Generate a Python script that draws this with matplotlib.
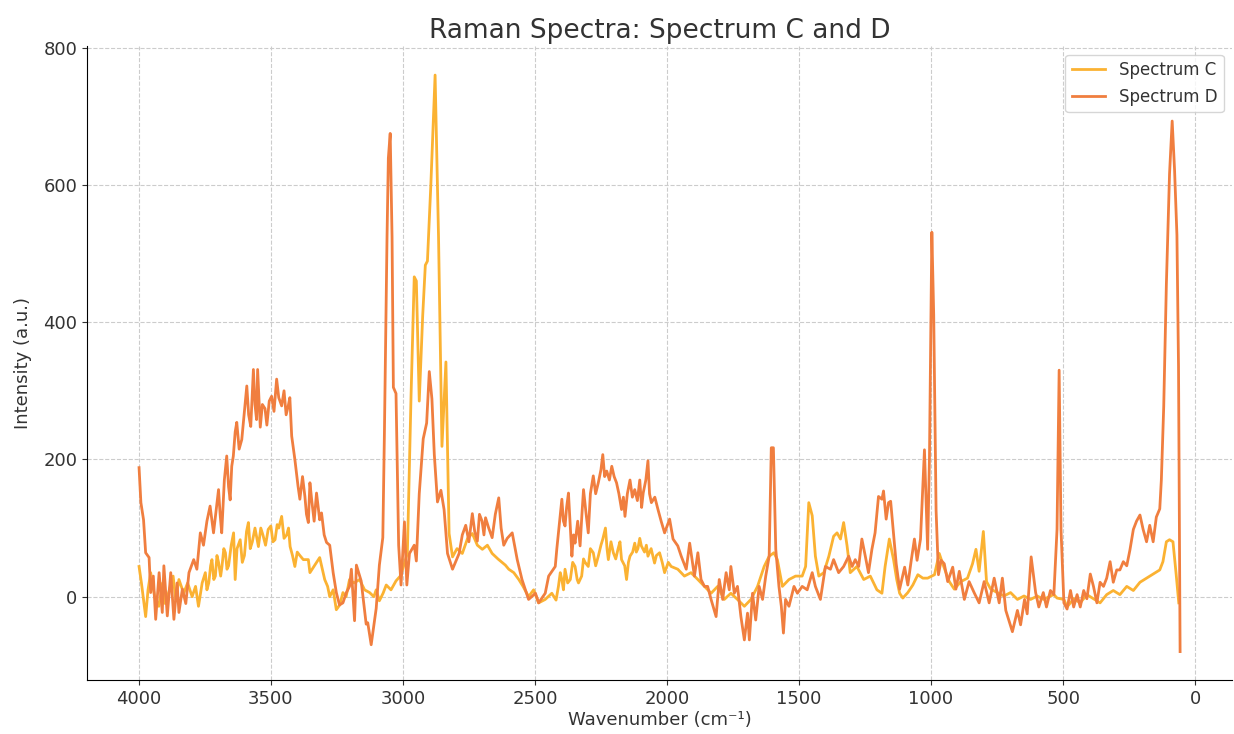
import matplotlib.pyplot as plt

# Spectrum C (wavenumber, intensity)
wn_c = [3999, 3990, 3974, 3965, 3955, 3940, 3924, 3910, 3900, 3887,
        3870, 3860, 3848, 3830, 3815, 3798, 3785, 3774, 3760, 3748,
        3742, 3735, 3728, 3723, 3716, 3710, 3704, 3698, 3690, 3685,
        3678, 3672, 3666, 3660, 3650, 3641, 3635, 3628, 3616, 3608,
        3600, 3592, 3585, 3578, 3570, 3560, 3547, 3538, 3530, 3520,
        3510, 3500, 3492, 3484, 3476, 3470, 3459, 3450, 3440, 3433,
        3427, 3418, 3409, 3400, 3390, 3377, 3358, 3352, 3335, 3315,
        3296, 3285, 3277, 3264, 3252, 3239, 3227, 3215, 3202, 3185,
        3164, 3145, 3126, 3110, 3101, 3089, 3075, 3063, 3045, 3026,
        3010, 3001, 2983, 2969, 2957, 2949, 2938, 2925, 2915, 2907,
        2894, 2878, 2865, 2852, 2837, 2825, 2812, 2795, 2775, 2755,
        2737, 2718, 2699, 2680, 2662, 2640, 2612, 2599, 2580, 2561,
        2545, 2524, 2505, 2486, 2461, 2436, 2420, 2411, 2404, 2398,
        2392, 2386, 2376, 2366, 2357, 2348, 2340, 2335, 2323, 2316,
        2310, 2298, 2290, 2279, 2270, 2260, 2250, 2243, 2233, 2227,
        2222, 2212, 2203, 2194, 2185, 2178, 2172, 2160, 2153, 2146,
        2140, 2130, 2122, 2116, 2110, 2103, 2097, 2085, 2078, 2072,
        2060, 2047, 2040, 2028, 2018, 2009, 1995, 1984, 1959, 1934,
        1909, 1883, 1858, 1833, 1808, 1783, 1758, 1733, 1707, 1682,
        1657, 1632, 1613, 1595, 1582, 1563, 1538, 1513, 1488, 1475,
        1463, 1450, 1438, 1425, 1406, 1387, 1369, 1356, 1343, 1331,
        1318, 1306, 1281, 1255, 1230, 1205, 1186, 1174, 1158, 1142,
        1130, 1119, 1107, 1088, 1069, 1050, 1031, 1013, 987, 969,
        956, 931, 912, 887, 862, 843, 830, 818, 802, 790,
        774, 749, 724, 699, 673, 648, 623, 598, 573, 548,
        535, 523, 510, 497, 485, 460, 435, 410, 385, 360,
        335, 310, 285, 259, 234, 209, 184, 159, 134, 122,
        109, 97, 84, 72, 62]
int_c = [44, 20, -29, 10, 35, 0, -14, 20, -10, 6,
         30, -5, 25, 5, 20, 0, 15, -14, 20, 35,
         10, 20, 45, 54, 25, 30, 60, 50, 30, 44,
         70, 64, 40, 45, 75, 93, 25, 70, 83, 50,
         60, 95, 108, 70, 80, 100, 73, 100, 90, 75,
         98, 103, 80, 83, 105, 100, 117, 85, 90, 100,
         73, 60, 44, 65, 60, 54, 54, 35, 45, 57,
         25, 15, 0, 10, -19, -12, 6, 0, 25, 20,
         25, 10, 6, 0, 10, -6, 5, 17, 10, 23,
         30, 40, 63, 294, 466, 460, 285, 409, 483, 489,
         601, 760, 524, 219, 342, 92, 58, 70, 63, 85,
         92, 75, 69, 75, 63, 55, 46, 40, 35, 25,
         15, 0, 10, -9, -4, 5, -5, 15, 35, 25,
         10, 40, 20, 25, 50, 44, 25, 20, 30, 55,
         50, 44, 70, 64, 45, 59, 75, 84, 100, 70,
         54, 80, 64, 55, 70, 80, 54, 45, 25, 50,
         59, 65, 78, 65, 70, 85, 74, 65, 75, 59,
         70, 49, 60, 64, 50, 35, 50, 44, 40, 30,
         35, 25, 15, 5, 15, -4, 5, -4, -14, -4,
         15, 44, 59, 64, 54, 15, 25, 30, 30, 44,
         137, 118, 59, 30, 35, 59, 88, 93, 84, 108,
         74, 35, 44, 25, 30, 10, 5, 44, 84, 54,
         25, 5, -2, 6, 17, 32, 27, 27, 32, 63,
         48, 22, 11, 22, 27, 48, 69, 37, 95, 22,
         11, 6, 1, 6, -4, 1, -4, 1, -4, 1,
         3, -2, -3, -4, -15, -3, -9, 3, -3, -9,
         3, 9, 3, 15, 9, 21, 27, 33, 39, 51,
         80, 83, 80, 33, -9]

# Spectrum D
wn_d = [3999, 3992, 3982, 3974, 3961, 3955, 3945, 3936, 3923, 3911,
        3905, 3892, 3879, 3867, 3855, 3848, 3835, 3822, 3810, 3792,
        3780, 3767, 3755, 3742, 3730, 3717, 3698, 3692, 3686, 3676,
        3667, 3660, 3654, 3648, 3642, 3635, 3629, 3620, 3610, 3600,
        3591, 3584, 3576, 3566, 3560, 3554, 3550, 3545, 3540, 3532,
        3522, 3515, 3506, 3497, 3488, 3478, 3470, 3459, 3450, 3442,
        3434, 3428, 3421, 3409, 3397, 3390, 3380, 3371, 3365, 3358,
        3352, 3345, 3336, 3327, 3315, 3308, 3298, 3289, 3277, 3264,
        3252, 3240, 3227, 3214, 3202, 3195, 3183, 3176, 3158, 3139,
        3133, 3120, 3101, 3089, 3076, 3070, 3060, 3055, 3048, 3041,
        3036, 3026, 3016, 3007, 2994, 2985, 2975, 2957, 2949, 2938,
        2923, 2910, 2900, 2890, 2881, 2869, 2856, 2844, 2831, 2812,
        2787, 2775, 2762, 2750, 2737, 2728, 2718, 2710, 2700, 2693,
        2687, 2675, 2662, 2650, 2637, 2628, 2618, 2605, 2586, 2567,
        2549, 2524, 2498, 2486, 2461, 2448, 2423, 2417, 2411, 2404,
        2398, 2392, 2386, 2380, 2373, 2366, 2360, 2354, 2348, 2338,
        2329, 2322, 2316, 2306, 2298, 2290, 2279, 2270, 2260, 2250,
        2243, 2236, 2228, 2218, 2209, 2200, 2191, 2182, 2172, 2165,
        2159, 2150, 2140, 2131, 2122, 2112, 2103, 2096, 2090, 2080,
        2072, 2066, 2059, 2046, 2034, 2022, 2009, 1990, 1977, 1959,
        1946, 1927, 1914, 1896, 1883, 1871, 1858, 1846, 1833, 1814,
        1802, 1789, 1776, 1764, 1758, 1745, 1733, 1720, 1707, 1695,
        1688, 1676, 1664, 1651, 1638, 1626, 1613, 1605, 1597, 1588,
        1576, 1567, 1559, 1551, 1538, 1519, 1506, 1488, 1469, 1450,
        1438, 1419, 1400, 1381, 1369, 1350, 1331, 1312, 1299, 1287,
        1274, 1262, 1249, 1237, 1224, 1212, 1199, 1186, 1180, 1170,
        1161, 1153, 1144, 1132, 1119, 1100, 1088, 1075, 1063, 1053,
        1040, 1025, 1013, 1006, 997, 990, 981, 972, 962, 950,
        937, 918, 906, 893, 874, 856, 837, 818, 799, 780,
        761, 742, 730, 717, 692, 673, 661, 646, 636, 621,
        604, 592, 575, 563, 548, 535, 523, 515, 508, 497,
        485, 472, 460, 447, 435, 422, 410, 397, 385, 372,
        360, 347, 335, 322, 310, 297, 285, 272, 259, 247,
        234, 222, 209, 197, 184, 172, 159, 147, 134, 128,
        119, 109, 97, 87, 78, 69, 63, 57]
int_d = [188, 137, 112, 64, 57, 6, 30, -33, 35, -23,
         45, -28, 35, -33, 20, -23, 11, -10, 35, 54,
         40, 93, 75, 110, 132, 93, 156, 120, 93, 170,
         205, 160, 141, 190, 205, 240, 254, 215, 229, 270,
         307, 265, 248, 331, 280, 258, 331, 290, 247, 280,
         274, 250, 285, 292, 270, 317, 290, 278, 300, 265,
         278, 290, 234, 200, 161, 142, 175, 146, 120, 108,
         166, 140, 110, 151, 112, 122, 90, 79, 75, 35,
         6, -12, -9, 6, 15, 40, -35, 46, 23, -40,
         -38, -70, -17, 46, 86, 236, 524, 639, 675, 524,
         305, 296, 75, 17, 109, 17, 63, 75, 52, 150,
         230, 253, 328, 288, 207, 138, 155, 127, 63, 40,
         63, 90, 104, 80, 121, 95, 81, 120, 110, 90,
         115, 100, 86, 120, 144, 100, 75, 85, 93, 54,
         25, -4, 5, -9, 5, 30, 44, 70, 93, 120,
         142, 110, 103, 130, 151, 100, 59, 90, 78, 110,
         74, 120, 156, 120, 93, 150, 176, 150, 166, 185,
         207, 175, 183, 170, 190, 175, 166, 150, 127, 145,
         117, 150, 170, 145, 156, 140, 170, 130, 151, 170,
         198, 150, 137, 145, 127, 110, 93, 113, 84, 74,
         59, 40, 78, 30, 64, 25, 15, 15, -4, -29,
         25, -4, 35, 10, 44, 5, 15, -29, -63, -24,
         -63, 5, -34, 15, -4, 30, 59, 217, 217, 69,
         15, -14, -53, -4, -14, 15, 5, 15, 10, 35,
         15, -4, 44, 40, 54, 35, 44, 59, 44, 54,
         44, 84, 59, 35, 69, 93, 146, 142, 154, 113,
         137, 139, 100, 48, 11, 43, 17, 53, 84, 53,
         84, 214, 69, 204, 531, 411, 126, 32, 53, 48,
         22, 43, 11, 37, -4, 22, 6, -9, 22, -9,
         27, -9, 27, -20, -51, -20, -41, -4, -25, 58,
         6, -15, 6, -15, 9, 3, 98, 330, 98, -9,
         -18, 9, -15, 3, -15, 9, -3, 33, 15, -9,
         21, 15, 27, 51, 21, 39, 39, 51, 45, 68,
         98, 110, 119, 98, 80, 104, 80, 116, 128, 170,
         277, 455, 616, 693, 622, 527, 336, -80]

labels = ['Spectrum C', 'Spectrum D']
colors = ['#FBB232', '#F07E3F']

plt.rcParams['font.family'] = 'DejaVu Sans'
fig = plt.figure(figsize=(12.34, 7.34), dpi=100)
ax = fig.add_axes([0.0705, 0.073, 0.928, 0.864])

ax.plot(wn_c, int_c, color=colors[0], lw=2, label=labels[0])
ax.plot(wn_d, int_d, color=colors[1], lw=2, label=labels[1])

ax.invert_xaxis()
ax.set_title('Raman Spectra: Spectrum C and D', fontsize=19, color='#333333')
ax.set_xlabel('Wavenumber (cm⁻¹)', fontsize=13, color='#333333', labelpad=2)
ax.set_ylabel('Intensity (a.u.)', fontsize=13, color='#333333', labelpad=8)
ax.tick_params(labelsize=13, colors='#333333')
ax.grid(True, linestyle='--', color='#cccccc', linewidth=0.8)
ax.spines['top'].set_visible(False)
ax.spines['right'].set_visible(False)
ax.legend(loc='upper right', fontsize=12, labelcolor='#333333')

plt.savefig('out.png', dpi=100)
